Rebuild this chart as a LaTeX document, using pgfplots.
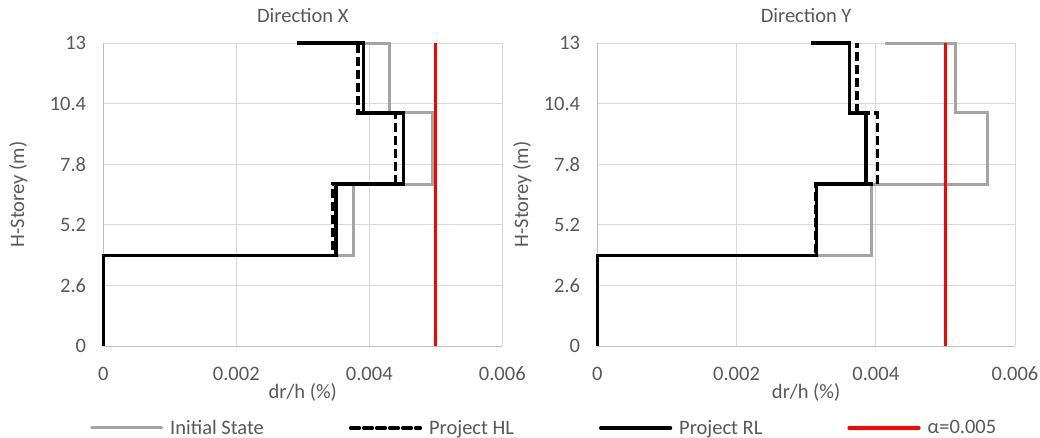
\documentclass[border=0pt]{standalone}
\usepackage{fontspec}
\setmainfont{Carlito}
\usepackage{pgfplots}
\pgfplotsset{compat=1.18}
\definecolor{txt}{HTML}{595959}
\definecolor{grd}{HTML}{D9D9D9}
\definecolor{axl}{HTML}{BFBFBF}
\definecolor{inigray}{HTML}{A5A5A5}
\definecolor{alpred}{HTML}{FF0000}
\newcommand\fs{\fontsize{20.5bp}{24bp}\selectfont}
\pgfplotsset{
 dstyle/.style={
  scale only axis, height=303bp, xmin=0, xmax=0.006, ymin=0, ymax=13,
  scaled ticks=false,
  xtick={0,0.002,0.004,0.006}, xticklabels={0,0.002,0.004,0.006},
  ytick={0,2.6,5.2,7.8,10.4,13}, yticklabels={0,2.6,5.2,7.8,10.4,13},
  axis lines=left, axis line style={axl, line width=1bp, -},
  grid=major, major grid style={grd, line width=1bp},
  major tick length=0pt,
  /pgf/number format/assume math mode=true,
  tick label style={font=\fs, text=txt, inner sep=0pt},
  xticklabel style={anchor=base, yshift=-34bp},
  yticklabel style={anchor=east, xshift=-17bp},
  label style={font=\fs, text=txt},
  title style={font=\fs, text=txt, at={(0.5,1)}, anchor=base, yshift=15bp, inner sep=0pt},
  xlabel style={at={(0.5,0)}, anchor=base, yshift=-52bp, inner sep=0pt},
  clip=false,
  xlabel={dr/h (\%)}, ylabel={H-Storey (m)},
 },
 sIni/.style={inigray, line width=3bp},
 sHL/.style={black, line width=3.2bp, dash pattern=on 9bp off 4bp},
 sRL/.style={black, line width=3.2bp},
 sAlp/.style={alpred, line width=3.2bp},
}
\begin{document}
\begin{tikzpicture}
\useasboundingbox (0,0) rectangle (1040bp,-438bp);
\begin{axis}[dstyle, width=399bp, at={(103.3bp,-346bp)}, anchor=south west,
  title={Direction X},
  ylabel style={at={(-0.213,0.5)}, anchor=center, rotate=0},
  legend columns=4,
  legend style={at={(-0.0333,-0.2706)}, anchor=west, draw=none, fill=none,
    inner sep=0pt, font=\fs, text=txt,
    nodes={inner xsep=7bp, inner ysep=0pt},
    /tikz/every even column/.append style={column sep=78bp}},
  legend image code/.code={\draw[#1, line cap=round] (0bp,0bp) -- (70bp,0bp);},
]
\addplot[sIni] coordinates {(0,0)(0,3.9)(0.00376,3.9)(0.00376,6.95)(0.00495,6.95)(0.00495,10)(0.0043,10)(0.0043,13)(0.0033,13)};
\addlegendentry{Initial State}
\addplot[sHL] coordinates {(0,0)(0,3.9)(0.00345,3.9)(0.00345,6.95)(0.0044,6.95)(0.0044,10)(0.00383,10)(0.00383,13)(0.0033,13)};
\addlegendentry{Project HL}
\addplot[sRL] coordinates {(0,0)(0,3.9)(0.0035,3.9)(0.0035,6.95)(0.00452,6.95)(0.00452,10)(0.00391,10)(0.00391,13)(0.00292,13)};
\addlegendentry{Project RL}
\addplot[sAlp] coordinates {(0.005,0)(0.005,13)};
\addlegendentry{α=0.005}
\end{axis}
\begin{axis}[dstyle, width=417.7bp, at={(597.3bp,-346bp)}, anchor=south west,
  title={Direction Y},
  ylabel style={at={(-0.1796,0.5)}, anchor=center, rotate=0},
]
\addplot[sIni] coordinates {(0,0)(0,3.9)(0.00394,3.9)(0.00394,6.95)(0.00561,6.95)(0.00561,10)(0.00515,10)(0.00515,13)(0.00413,13)};
\addplot[sHL] coordinates {(0,0)(0,3.9)(0.00314,3.9)(0.00314,6.95)(0.00402,6.95)(0.00402,10)(0.00373,10)(0.00373,13)};
\addplot[sRL] coordinates {(0,0)(0,3.9)(0.00315,3.9)(0.00315,6.95)(0.00386,6.95)(0.00386,10)(0.00362,10)(0.00362,13)(0.00307,13)};
\addplot[sAlp] coordinates {(0.005,0)(0.005,13)};
\end{axis}
\end{tikzpicture}
\end{document}
